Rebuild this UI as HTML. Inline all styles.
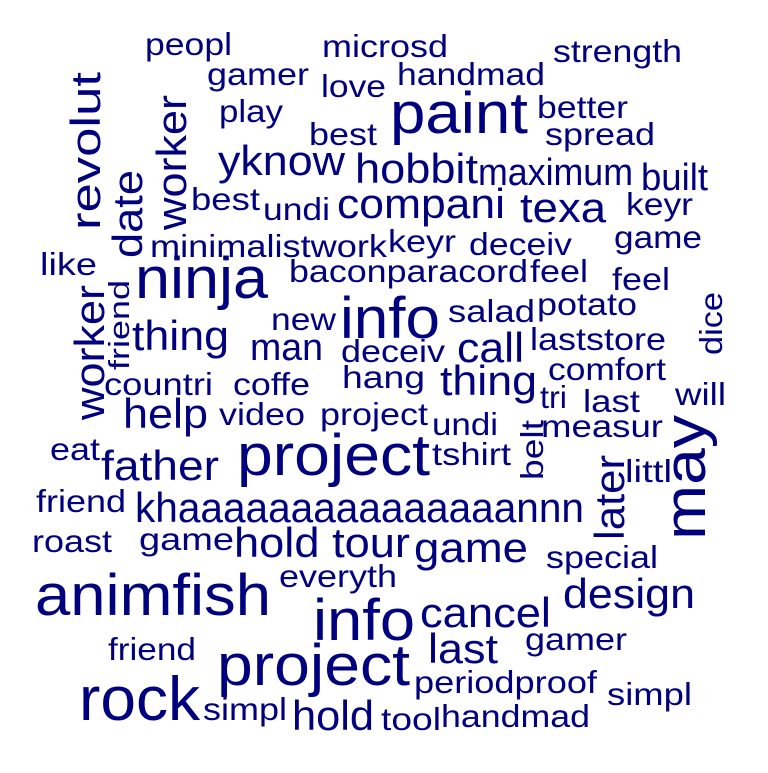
<!DOCTYPE html>
<html><head><meta charset="utf-8"><style>
html,body{margin:0;padding:0;background:#fff;}
svg text{font-family:"Liberation Sans",Arial,sans-serif;fill:#00007f;}
</style></head><body>
<svg id="cloud" width="768" height="768" viewBox="0 0 768 768" xmlns="http://www.w3.org/2000/svg"></svg>
<script>
// word data: text, relative frequency (size class), rotated flag
const words = ["peopl","microsd","strength","gamer","handmad","love","paint","play","better","best","spread","revolut","worker","yknow","hobbit","maximum","built","date","best","undi","compani","texa","keyr","minimalistwork","keyr","deceiv","game","like","ninja","friend","baconparacord","feel","feel","worker","info","dice","salad","potato","new","thing","man","deceiv","call","laststore","comfort","countri","coffe","hang","thing","tri","last","will","help","video","project","undi","belt","measur","may","eat","project","tshirt","father","later","littl","friend","khaaaaaaaaaaaaaaannn","roast","game","hold tour","game","special","everyth","animfish","info","cancel","design","gamer","friend","last","project","periodproof","rock","simpl","simpl","hold","tool","handmad"];
const freq = [1,1,1,1,1,1,3,1,1,1,1,2,2,2,2,1.2,1.2,2,1,1,2,2,1,1,1,1,1,1,3,0.9,1,1,1,2,3,1,1,1,1,2,1.2,1,2,1,1,1,1,1,2,1,1,1,2,1,1,1,1,1,3,1,3,1,2,2,1,1,2,1,1,2,2,1,1,3,3,2,2,1,1,2,3,1,3.2,1,1,2,1,1];
const rotated = [0,0,0,0,0,0,0,0,0,0,0,1,1,0,0,0,0,1,0,0,0,0,0,0,0,0,0,0,0,1,0,0,0,1,0,1,0,0,0,0,0,0,0,0,0,0,0,0,0,0,0,0,0,0,0,0,1,0,1,0,0,0,0,1,0,0,0,0,0,0,0,0,0,0,0,0,0,0,0,0,0,0,0,0,0,0,0,0];
// layout (anchor x, baseline y, text span length) as placed by the cloud layout
const layoutX = [145,322,553,207,397,321,390,219,537,309,545,100,186,218,355,478,641,142,191,263,337,520,626,150,388,469,614,40,135,129,289,530,612,104,340,722,448,537,271,132,250,341,457,530,548,104,233,342,440,540,583,675,123,219,320,432,543,541,705,50,237,432,101,624,625,36,135,32,139,234,414,546,279,35,313,420,563,525,108,428,217,414,79,607,203,292,381,441];
const layoutY = [55,57,62,85,85,97,133,122,118,145,145,230,230,175,183,185,190,258,210,220,218,222,215,257,252,255,248,275,298,370,282,282,290,420,338,355,322,315,330,350,360,362,362,350,380,395,395,388,395,408,412,405,428,425,425,435,480,437,540,460,475,465,480,540,482,512,522,552,550,557,562,568,587,615,640,627,608,650,660,663,685,693,720,705,720,730,730,727];
const spanLen = [87,126,129,102,148,65,138,64,91,68,110,158,135,127,123,155,67,88,69,67,168,86,67,237,68,103,88,57,133,90,239,58,58,135,100,63,87,100,65,97,73,104,67,136,118,109,77,83,97,27,57,51,85,86,108,66,60,122,125,50,193,79,118,85,47,90,449,80,95,176,114,112,118,236,102,131,132,102,88,70,193,183,121,85,84,82,60,149];
const sizeFor = f => f >= 3 ? 58 * (f/3) : f >= 2 ? 42 : 31.5 * f;

const svg = document.getElementById('cloud');
const NS = 'http://www.w3.org/2000/svg';
words.forEach((w, i) => {
  const t = document.createElementNS(NS, 'text');
  
  
  t.setAttribute('font-size', sizeFor(freq[i]).toFixed(1));
  t.setAttribute('textLength', spanLen[i]);
  t.setAttribute('lengthAdjust', 'spacingAndGlyphs');
  t.setAttribute('dominant-baseline', 'alphabetic');
  if (rotated[i]) {
    t.setAttribute('transform', 'translate(' + layoutX[i] + ',' + layoutY[i] + ') rotate(-90)');
    t.setAttribute('x', 0); t.setAttribute('y', 0);
  } else {
    t.setAttribute('x', layoutX[i]); t.setAttribute('y', layoutY[i]);
  }
  t.textContent = w;
  svg.appendChild(t);
});
</script>
</body></html>
